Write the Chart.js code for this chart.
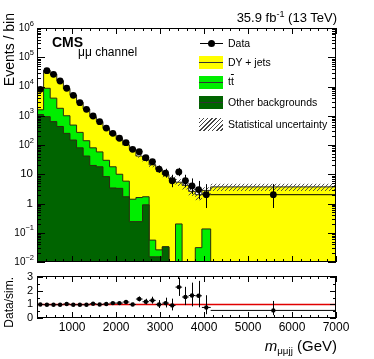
<!DOCTYPE html>
<html>
<head>
<meta charset="utf-8">
<script src="https://cdn.jsdelivr.net/npm/chart.js@4.4.1/dist/chart.umd.min.js"></script>
<style>
  html, body { margin: 0; padding: 0; background: #fff; }
  #wrap { position: relative; width: 374px; height: 359px; overflow: hidden;
          font-family: "Liberation Sans", Arial, sans-serif; color: #000; }
  canvas { position: absolute; left: 0; }
  .t { position: absolute; white-space: nowrap; line-height: 1; }
  .rt { position: absolute; white-space: nowrap; width: 100px; text-align: right;
        transform-origin: 0 0; transform: rotate(-90deg); }
  .leg { position: absolute; left: 228px; font-size: 10.5px; line-height: 12px; white-space: nowrap; }
  .box { position: absolute; left: 199px; width: 24px; height: 13px; box-sizing: border-box; }
  .box::after { content: ""; position: absolute; left: 0; right: 0; top: 6px; height: 1px; background: #333; }
  sup { font-size: 70%; vertical-align: 0; position: relative; top: -0.55em; }
  sub { font-size: 65%; vertical-align: 0; position: relative; top: 0.35em; }
</style>
</head>
<body>
<div id="wrap">
  <canvas id="main" width="374" height="270" style="top:0;width:374px;height:270px"></canvas>
  <canvas id="ratio" width="374" height="89" style="top:270px;width:374px;height:89px"></canvas>

  <div class="t" style="right:37px;top:10.5px;font-size:13px">35.9 fb<sup>-1</sup> (13 TeV)</div>
  <div class="t" style="left:52px;top:35px;font-size:14px;font-weight:bold">CMS</div>
  <div class="t" style="left:78px;top:46px;font-size:12px">&mu;&mu; channel</div>

  <div class="rt" style="left:1px;top:113px;font-size:14px;line-height:16px">Events / bin</div>
  <div class="rt" style="left:2px;top:377px;font-size:12px;line-height:14px">Data/sim.</div>
  <div class="t" style="right:37px;top:338px;font-size:15px"><i>m</i><sub>&mu;&mu;jj</sub> (GeV)</div>

  <!-- legend -->
  <div style="position:absolute;left:200px;top:42.5px;width:23px;height:1px;background:#000"></div>
  <div style="position:absolute;left:208px;top:39.5px;width:7px;height:7px;border-radius:50%;background:#000"></div>
  <div class="leg" style="top:37px">Data</div>
  <div class="box" style="top:56px;background:#ffff00"></div>
  <div class="leg" style="top:56px">DY + jets</div>
  <div class="box" style="top:76px;background:#00ee00"></div>
  <div class="leg" style="top:75px">t<span style="text-decoration:overline">t</span></div>
  <div class="box" style="top:96px;background:#006400"></div>
  <div class="leg" style="top:96px">Other backgrounds</div>
  <div style="position:absolute;left:199px;top:118px;width:24px;height:13px;
       background:repeating-linear-gradient(135deg,#444 0 1px,transparent 1px 3px)"></div>
  <div class="leg" style="top:118px">Statistical uncertainty</div>
</div>

<script>
// bin edges (GeV)
const binEdges = [200, 350, 500, 650, 800, 950, 1100, 1250, 1400, 1550, 1700, 1850, 2000, 2150,
                  2300, 2450, 2600, 2750, 2900, 3050, 3200, 3350, 3500, 3650, 3800, 3950, 4150, 7000];

// observed events per bin
const dataCounts = [8000, 34700, 26000, 15400, 8700, 5000, 2800, 1660, 980, 627, 380, 251, 170, 120,
                    71, 59, 37, 27, 15, 11, 6, 12, 6, 4, 3, 2, 2];
const dataErrUp   = [90, 186, 161, 124, 93, 71, 53, 41, 31, 25, 20, 16, 13, 11,
                     9, 8.2, 7, 6.2, 4.9, 4.4, 3.6, 4.5, 3.6, 3.2, 2.9, 2.6, 2.6];
const dataErrDown = [89, 186, 161, 124, 93, 71, 53, 41, 31, 25, 19, 15.8, 13, 11,
                     8.4, 7.7, 6.1, 5.2, 3.8, 3.3, 2.4, 3.4, 2.4, 1.9, 1.6, 1.3, 1.3];

// simulated backgrounds per bin
const dyJets   = [6400, 26700, 22500, 13900, 7450, 4620, 2590, 1560, 840, 577, 340, 210, 145, 96,
                  69.6, 40.4, 29.3, 20.9, 14.8, 9.8, 6.9, 5.15, 4.2, 2.6, 1.97, 2.67, 3.7];
const ttbar    = [500, 7770, 3370, 1370, 750, 332, 190, 98, 60, 40, 21.7, 14.6, 6.7, 4.1,
                  1.16, 1.36, 0.8, 0.041, 0.011, 0, 0, 0.2, 0, 0, 0.031, 0.135, 0];
const otherBkg = [1100, 930, 630, 430, 250, 148, 80, 42, 20, 18, 8.3, 3.4, 3.3, 1.7,
                  0.24, 0.24, 0.9, 0.015, 0.015, 0.033, 0, 0, 0, 0, 0, 0, 0];
const statUnc  = [160, 350, 260, 160, 100, 70, 45, 30, 25, 20, 15, 11, 10, 8,
                  7, 5, 4.5, 3.5, 2.8, 2.0, 1.6, 1.4, 1.2, 0.8, 0.7, 0.8, 1.0];

// data / simulation
const ratioVals    = [1.0, 0.98, 0.98, 0.98, 1.03, 0.98, 0.98, 0.98, 1.05, 1.0, 1.03, 1.1, 1.1, 1.18,
                      1.0, 1.4, 1.2, 1.3, 1.0, 1.1, 0.93, 2.28, 1.55, 1.66, 1.64, 0.78, 0.56];
const ratioErrUp   = [0.01, 0.01, 0.01, 0.01, 0.015, 0.015, 0.02, 0.025, 0.035, 0.04, 0.05, 0.07, 0.08, 0.1,
                      0.13, 0.19, 0.22, 0.27, 0.32, 0.4, 0.5, 0.7, 0.75, 0.95, 1.1, 0.9, 0.7];
const ratioErrDown = [0.01, 0.01, 0.01, 0.01, 0.015, 0.015, 0.02, 0.025, 0.035, 0.04, 0.05, 0.07, 0.08, 0.1,
                      0.12, 0.17, 0.19, 0.24, 0.26, 0.32, 0.37, 0.65, 0.6, 0.8, 0.85, 0.5, 0.35];

// tick values
const xMajorTicks = [1000, 2000, 3000, 4000, 5000, 6000, 7000];
const yMainTicks = [1e-2, 1e-1, 1, 10, 1e2, 1e3, 1e4, 1e5, 1e6];
const yRatioTicks = [0, 1, 2, 3];

const FONT = '"Liberation Sans", Arial, sans-serif';
const nBins = binEdges.length - 1;
const centers = [];
for (let i = 0; i < nBins; i++) centers.push((binEdges[i] + binEdges[i + 1]) / 2);

function stepPoints(vals) {
  const pts = vals.map((v, i) => ({ x: binEdges[i], y: Math.max(v, 1e-5) }));
  pts.push({ x: binEdges[nBins], y: Math.max(vals[nBins - 1], 1e-5) });
  return pts;
}

const cumOther = otherBkg.slice();
const cumTop = otherBkg.map((v, i) => v + ttbar[i]);
const cumTotal = cumTop.map((v, i) => v + dyJets[i]);
const uncHi = cumTotal.map((v, i) => v + statUnc[i]);
const uncLo = cumTotal.map((v, i) => Math.max(v - statUnc[i], 1e-5));

// hatch pattern for uncertainty band
function hatch(ctx) {
  const c = document.createElement('canvas');
  c.width = 4; c.height = 4;
  const g = c.getContext('2d');
  g.strokeStyle = '#444';
  g.lineWidth = 0.9;
  g.beginPath();
  g.moveTo(0, 4); g.lineTo(4, 0);
  g.moveTo(-1, 1); g.lineTo(1, -1);
  g.moveTo(3, 5); g.lineTo(5, 3);
  g.stroke();
  return ctx.createPattern(c, 'repeat');
}

// ROOT-like frame with inside ticks
function rootFrame(opts) {
  return {
    id: 'rootFrame',
    afterDatasetsDraw(chart) {
      const { ctx, scales: { x, y } } = chart;
      ctx.save();
      ctx.strokeStyle = '#000';
      ctx.lineWidth = 1;
      // error bars
      if (opts.errors) {
        const e = opts.errors;
        ctx.beginPath();
        for (let i = 0; i < nBins; i++) {
          const cx = Math.round(x.getPixelForValue(centers[i])) + 0.5;
          const cy = y.getPixelForValue(e.vals[i]);
          ctx.moveTo(cx, y.getPixelForValue(e.vals[i] + e.up[i]));
          ctx.lineTo(cx, y.getPixelForValue(Math.max(e.vals[i] - e.down[i], 1e-5)));
          ctx.moveTo(x.getPixelForValue(binEdges[i]), cy);
          ctx.lineTo(x.getPixelForValue(binEdges[i + 1]), cy);
        }
        ctx.stroke();
      }
      ctx.restore();
    },
    afterDraw(chart) {
      const { ctx, chartArea: a, scales: { x, y } } = chart;
      ctx.save();
      ctx.strokeStyle = '#000';
      ctx.lineWidth = 1;
      ctx.strokeRect(a.left + 0.5, a.top + 0.5, a.right - a.left - 1, a.bottom - a.top - 1);
      ctx.beginPath();
      for (let v = 200; v <= 7000; v += 200) {
        const px = Math.round(x.getPixelForValue(v)) + 0.5;
        const len = v % 1000 === 0 ? opts.xMajLen : opts.xMinLen;
        ctx.moveTo(px, a.bottom); ctx.lineTo(px, a.bottom - len);
        ctx.moveTo(px, a.top); ctx.lineTo(px, a.top + len);
      }
      opts.yMinor.forEach(v => {
        const py = Math.round(y.getPixelForValue(v)) + 0.5;
        ctx.moveTo(a.left, py); ctx.lineTo(a.left + opts.yMinLen, py);
        ctx.moveTo(a.right, py); ctx.lineTo(a.right - opts.yMinLen, py);
      });
      opts.yMajor.forEach(v => {
        const py = Math.round(y.getPixelForValue(v)) + 0.5;
        ctx.moveTo(a.left, py); ctx.lineTo(a.left + opts.yMajLen, py);
        ctx.moveTo(a.right, py); ctx.lineTo(a.right - opts.yMajLen, py);
      });
      ctx.stroke();
      ctx.fillStyle = '#000';
      ctx.textBaseline = 'middle';
      opts.yMajor.forEach(v => opts.yLabel(ctx, v, a.left - 4, y.getPixelForValue(v)));
      if (opts.xLabels) {
        ctx.font = '12px ' + FONT;
        ctx.textAlign = 'center';
        xMajorTicks.forEach(v => ctx.fillText(String(v), x.getPixelForValue(v), a.bottom + 10));
      }
      ctx.restore();
    }
  };
}

function logLabel(ctx, v, xr, py) {
  const e = Math.round(Math.log10(v));
  ctx.textAlign = 'right';
  if (e === 0 || e === 1) {
    ctx.font = '11.5px ' + FONT;
    ctx.fillText(e === 0 ? '1' : '10', xr, py);
    return;
  }
  const sup = e < 0 ? '\u2212' + (-e) : String(e);
  ctx.font = '7.5px ' + FONT;
  const w = ctx.measureText(sup).width;
  ctx.fillText(sup, xr + 1, py - 4.5);
  ctx.font = '10px ' + FONT;
  ctx.fillText('10', xr + 1 - w, py);
}

const logMinor = [];
for (let e = -2; e < 6; e++) for (let k = 2; k <= 9; k++) logMinor.push(k * Math.pow(10, e));

const mainCtx = document.getElementById('main').getContext('2d');
const stepStyle = { stepped: true, pointRadius: 0, borderWidth: 1, fill: 'start', borderColor: '#2b2b10' };

new Chart(mainCtx, {
  type: 'line',
  data: {
    datasets: [
      { data: centers.map((c, i) => ({ x: c, y: dataCounts[i] })), showLine: false,
        pointRadius: 3.4, pointBackgroundColor: '#000', pointBorderWidth: 0 },
      { data: stepPoints(uncHi), stepped: true, pointRadius: 0, borderWidth: 0,
        fill: '+1', backgroundColor: hatch(mainCtx) },
      { data: stepPoints(uncLo), stepped: true, pointRadius: 0, borderWidth: 0, fill: false },
      Object.assign({ data: stepPoints(cumOther), backgroundColor: '#006400' }, stepStyle),
      Object.assign({ data: stepPoints(cumTop), backgroundColor: '#00ee00' }, stepStyle),
      Object.assign({ data: stepPoints(cumTotal), backgroundColor: '#ffff00' }, stepStyle)
    ]
  },
  options: {
    responsive: false, animation: false,
    layout: { padding: { left: 37, right: 38, top: 28, bottom: 8 } },
    scales: {
      x: { type: 'linear', min: 200, max: 7000, display: false },
      y: { type: 'logarithmic', min: 1e-2, max: 1e6, display: false }
    },
    plugins: { legend: { display: false }, tooltip: { enabled: false } }
  },
  plugins: [rootFrame({
    errors: { vals: dataCounts, up: dataErrUp, down: dataErrDown },
    xMajLen: 6, xMinLen: 3, yMajLen: 8, yMinLen: 4,
    yMajor: yMainTicks, yMinor: logMinor, yLabel: logLabel, xLabels: false
  })]
});

const ratioMinor = [];
for (let v = 0; v <= 3.1; v += 0.5) if (v % 1 !== 0) ratioMinor.push(v);

new Chart(document.getElementById('ratio').getContext('2d'), {
  type: 'line',
  data: {
    datasets: [
      { data: centers.map((c, i) => ({ x: c, y: ratioVals[i] })), showLine: false,
        pointRadius: 2.2, pointBackgroundColor: '#000', pointBorderWidth: 0 },
      { data: [{ x: 200, y: 1 }, { x: 7000, y: 1 }], borderColor: '#e00000', borderWidth: 1.5,
        pointRadius: 0, fill: false }
    ]
  },
  options: {
    responsive: false, animation: false,
    layout: { padding: { left: 37, right: 38, top: 6, bottom: 41 } },
    scales: {
      x: { type: 'linear', min: 200, max: 7000, display: false },
      y: { type: 'linear', min: 0, max: 3.1, display: false }
    },
    plugins: { legend: { display: false }, tooltip: { enabled: false } }
  },
  plugins: [rootFrame({
    errors: { vals: ratioVals, up: ratioErrUp, down: ratioErrDown },
    xMajLen: 6, xMinLen: 3, yMajLen: 6, yMinLen: 3,
    yMajor: yRatioTicks, yMinor: ratioMinor,
    yLabel: (ctx, v, xr, py) => { ctx.font = '11px ' + FONT; ctx.textAlign = 'right'; ctx.fillText(String(v), xr, py); },
    xLabels: true
  })]
});
</script>
</body>
</html>
